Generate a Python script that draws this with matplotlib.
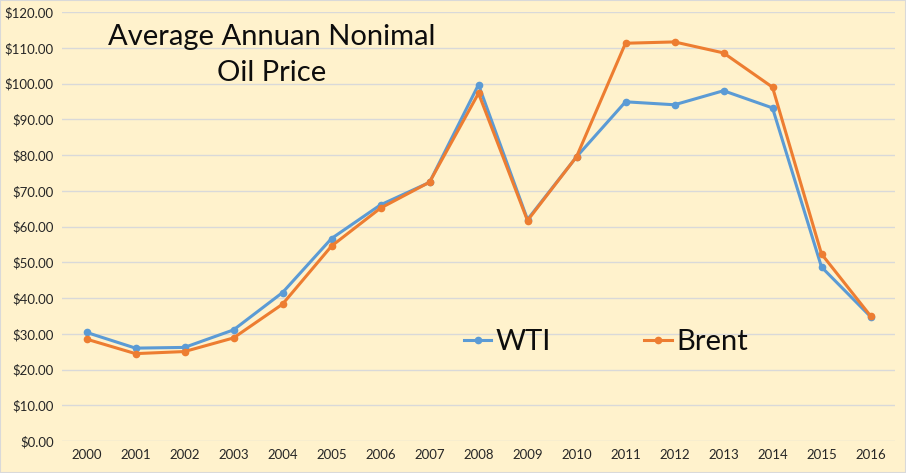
import matplotlib
matplotlib.use("Agg")
import matplotlib.pyplot as plt
from matplotlib.patches import Rectangle

years = [str(y) for y in range(2000, 2017)]
wti = [30.38, 25.98, 26.18, 31.08, 41.51, 56.64, 66.05, 72.34, 99.67, 61.95,
       79.48, 94.88, 94.05, 97.98, 93.17, 48.66, 34.8]
brent = [28.50, 24.44, 25.02, 28.83, 38.27, 54.52, 65.14, 72.39, 97.26, 61.67,
         79.50, 111.26, 111.63, 108.56, 98.97, 52.32, 35.0]
yticks = list(range(0, 121, 10))

W, H = 906, 473
bg = "#FFF2CC"
fig = plt.figure(figsize=(W / 100, H / 100), dpi=100, facecolor=bg)
plt.rcParams['font.family'] = ['Lato', 'DejaVu Sans']

ax = fig.add_axes([62 / W, (H - 441) / H, (895 - 62) / W, (441 - 12) / H])
ax.set_facecolor(bg)
x = list(range(len(years)))
ax.plot(x, wti, color="#5B9BD5", lw=2.2, marker="o", ms=4.5, label="WTI", zorder=3)
ax.plot(x, brent, color="#ED7D31", lw=2.2, marker="o", ms=4.5, label="Brent", zorder=3)

ax.set_xlim(-0.5, len(years) - 0.5)
ax.set_ylim(0, 120)
ax.set_xticks(x)
ax.set_xticklabels(years)
ax.set_yticks(yticks)
ax.set_yticklabels([f"${v:.2f}" for v in yticks])
ax.grid(axis="y", color="#D9D9D9", lw=1)
ax.set_axisbelow(True)
for s in ax.spines.values():
    s.set_visible(False)
ax.tick_params(length=0, labelsize=9.5, colors="#262626", pad=6)

fig.text(272 / W, 1 - 37 / H, "Average Annuan Nonimal", ha="center", va="center",
         fontsize=21, color="#0D0D0D")
fig.text(272 / W, 1 - 73 / H, "Oil Price", ha="center", va="center",
         fontsize=21, color="#0D0D0D")

leg = ax.legend(loc="center", bbox_to_anchor=(606 / W, 1 - 342 / H),
                bbox_transform=fig.transFigure, ncol=2, frameon=False,
                fontsize=21, handlelength=0.95, handletextpad=0.15,
                columnspacing=3.2)
for t in leg.get_texts():
    t.set_color("#0D0D0D")

fig.patches.append(Rectangle((0, 0), 1, 1, transform=fig.transFigure,
                             fill=False, edgecolor="#D9D9D9", lw=1.5))
fig.savefig("out.png", dpi=100, facecolor=bg)
